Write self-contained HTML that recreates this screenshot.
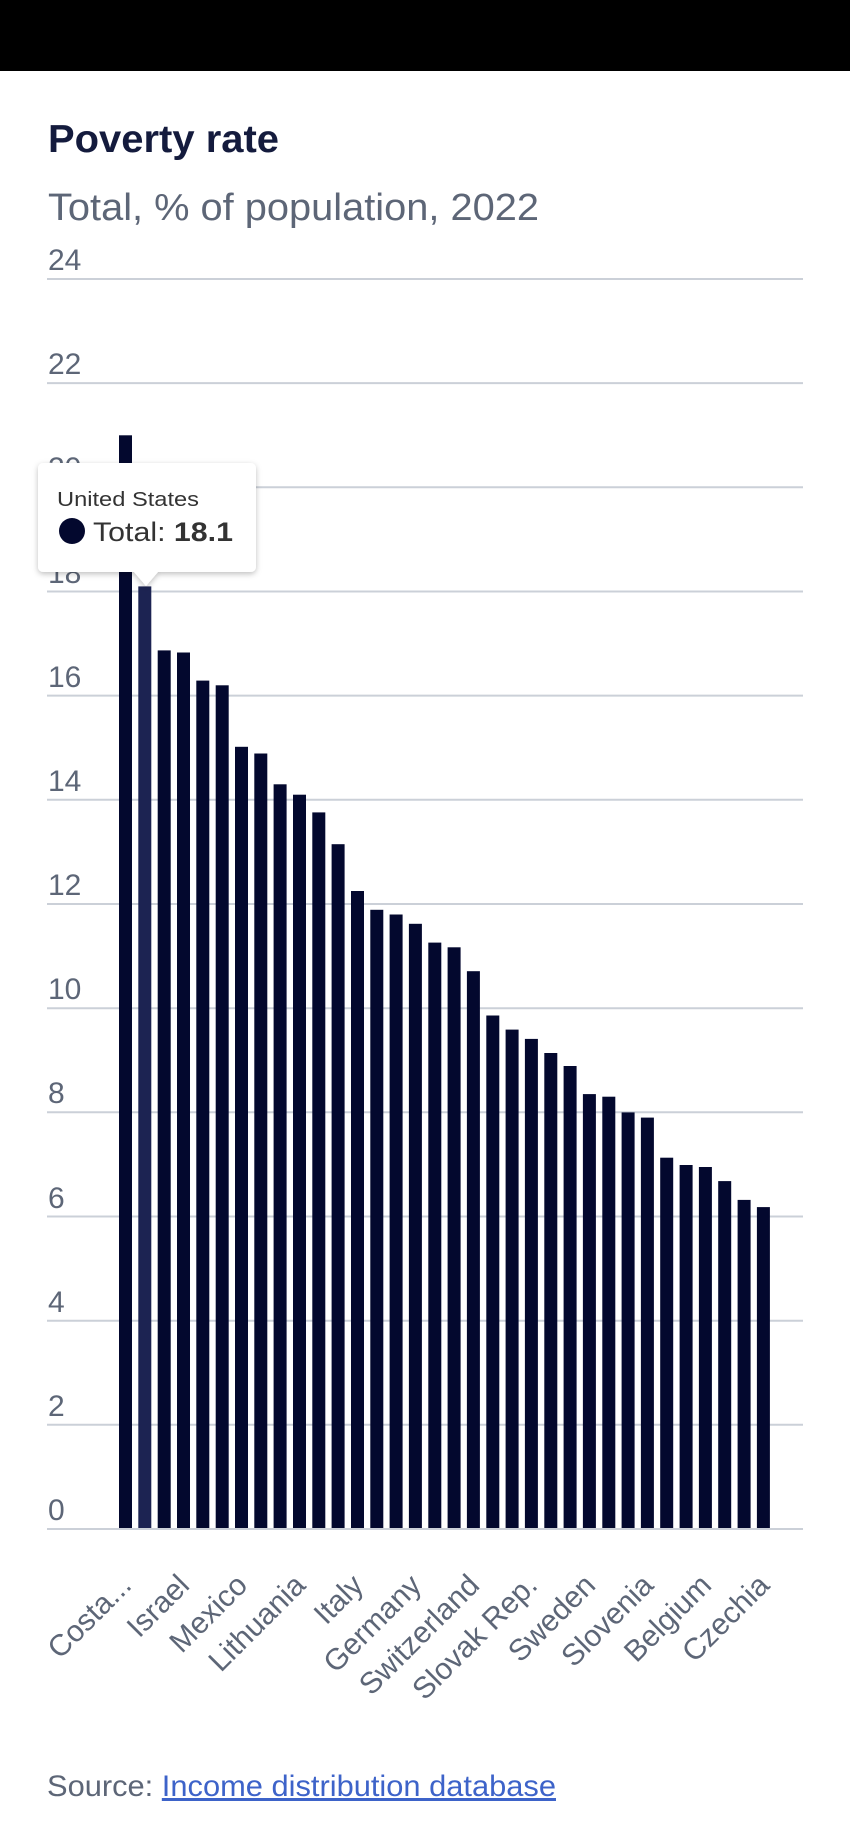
<!DOCTYPE html>
<html><head><meta charset="utf-8"><style>
html,body{margin:0;padding:0;background:#fff;}
svg{display:block}
</style></head><body>
<svg width="850" height="1842" viewBox="0 0 850 1842" xmlns="http://www.w3.org/2000/svg" font-family="Liberation Sans, sans-serif">
<rect x="0" y="0" width="850" height="71" fill="#000"/>
<text x="48" y="152" font-size="39" font-weight="bold" fill="#141b3d" textLength="231" lengthAdjust="spacingAndGlyphs">Poverty rate</text>
<text x="48" y="220" font-size="38" fill="#5d6677" textLength="491" lengthAdjust="spacingAndGlyphs">Total, % of population, 2022</text>
<g stroke="#cbd0d8" stroke-width="2">
<line x1="47" x2="803" y1="1529" y2="1529"/>
<line x1="47" x2="803" y1="1424.8" y2="1424.8"/>
<line x1="47" x2="803" y1="1320.7" y2="1320.7"/>
<line x1="47" x2="803" y1="1216.5" y2="1216.5"/>
<line x1="47" x2="803" y1="1112.3" y2="1112.3"/>
<line x1="47" x2="803" y1="1008.2" y2="1008.2"/>
<line x1="47" x2="803" y1="904" y2="904"/>
<line x1="47" x2="803" y1="799.8" y2="799.8"/>
<line x1="47" x2="803" y1="695.6" y2="695.6"/>
<line x1="47" x2="803" y1="591.5" y2="591.5"/>
<line x1="47" x2="803" y1="487.3" y2="487.3"/>
<line x1="47" x2="803" y1="383.1" y2="383.1"/>
<line x1="47" x2="803" y1="279" y2="279"/>
</g>
<g font-size="30" fill="#5d6677">
<text x="48" y="1520">0</text>
<text x="48" y="1416">2</text>
<text x="48" y="1312">4</text>
<text x="48" y="1208">6</text>
<text x="48" y="1103">8</text>
<text x="48" y="999">10</text>
<text x="48" y="895">12</text>
<text x="48" y="791">14</text>
<text x="48" y="687">16</text>
<text x="48" y="583">18</text>
<text x="48" y="478">20</text>
<text x="48" y="374">22</text>
<text x="48" y="270">24</text>
</g>
<g fill="#03082e">
<rect x="119" y="435.3" width="13" height="1092.7"/>
<rect x="138.3" y="586.4" width="13" height="941.6" fill="#1c2352"/>
<rect x="157.7" y="650.4" width="13" height="877.6"/>
<rect x="177" y="652.5" width="13" height="875.5"/>
<rect x="196.3" y="680.6" width="13" height="847.4"/>
<rect x="215.7" y="685.3" width="13" height="842.7"/>
<rect x="235" y="746.8" width="13" height="781.2"/>
<rect x="254.3" y="753.5" width="13" height="774.5"/>
<rect x="273.6" y="784.3" width="13" height="743.7"/>
<rect x="293" y="794.7" width="13" height="733.3"/>
<rect x="312.3" y="812.4" width="13" height="715.6"/>
<rect x="331.6" y="844.2" width="13" height="683.8"/>
<rect x="351" y="891" width="13" height="637"/>
<rect x="370.3" y="909.8" width="13" height="618.2"/>
<rect x="389.6" y="914.5" width="13" height="613.5"/>
<rect x="408.9" y="923.8" width="13" height="604.2"/>
<rect x="428.3" y="942.6" width="13" height="585.4"/>
<rect x="447.6" y="947.3" width="13" height="580.7"/>
<rect x="466.9" y="971.2" width="13" height="556.8"/>
<rect x="486.3" y="1015.5" width="13" height="512.5"/>
<rect x="505.6" y="1029.6" width="13" height="498.4"/>
<rect x="524.9" y="1038.9" width="13" height="489.1"/>
<rect x="544.3" y="1053" width="13" height="475"/>
<rect x="563.6" y="1066" width="13" height="462"/>
<rect x="582.9" y="1094.1" width="13" height="433.9"/>
<rect x="602.3" y="1096.7" width="13" height="431.3"/>
<rect x="621.6" y="1112.4" width="13" height="415.6"/>
<rect x="640.9" y="1117.6" width="13" height="410.4"/>
<rect x="660.2" y="1157.7" width="13" height="370.3"/>
<rect x="679.6" y="1165" width="13" height="363"/>
<rect x="698.9" y="1167" width="13" height="361"/>
<rect x="718.2" y="1181.1" width="13" height="346.9"/>
<rect x="737.6" y="1199.9" width="13" height="328.1"/>
<rect x="756.9" y="1207.1" width="13" height="320.9"/>
</g>
<g font-size="30" fill="#5d6677" text-anchor="end">
<text x="133" y="1587" transform="rotate(-45 133 1587)">Costa...</text>
<text x="191" y="1587" transform="rotate(-45 191 1587)">Israel</text>
<text x="249" y="1587" transform="rotate(-45 249 1587)">Mexico</text>
<text x="307" y="1587" transform="rotate(-45 307 1587)">Lithuania</text>
<text x="365" y="1587" transform="rotate(-45 365 1587)">Italy</text>
<text x="423" y="1587" transform="rotate(-45 423 1587)">Germany</text>
<text x="481" y="1587" transform="rotate(-45 481 1587)">Switzerland</text>
<text x="539" y="1587" transform="rotate(-45 539 1587)">Slovak Rep.</text>
<text x="597" y="1587" transform="rotate(-45 597 1587)">Sweden</text>
<text x="655" y="1587" transform="rotate(-45 655 1587)">Slovenia</text>
<text x="713" y="1587" transform="rotate(-45 713 1587)">Belgium</text>
<text x="771" y="1587" transform="rotate(-45 771 1587)">Czechia</text>
</g>
<defs><filter id="sh" x="-20%" y="-20%" width="140%" height="150%"><feDropShadow dx="0" dy="2" stdDeviation="3" flood-color="#000" flood-opacity="0.25"/></filter></defs>
<g filter="url(#sh)">
<path d="M44 463 H250 Q256 463 256 469 V566 Q256 572 250 572 H158 L146 586 L134 572 H44 Q38 572 38 566 V469 Q38 463 44 463 Z" fill="#fff"/>
</g>
<text x="57" y="506" font-size="20" fill="#333" textLength="142" lengthAdjust="spacingAndGlyphs">United States</text>
<circle cx="72" cy="531" r="13" fill="#03082e"/>
<text x="93" y="541" font-size="27" fill="#333" textLength="140" lengthAdjust="spacingAndGlyphs">Total: <tspan font-weight="bold">18.1</tspan></text>
<text x="47" y="1796" font-size="30" fill="#5d6677" textLength="509" lengthAdjust="spacingAndGlyphs">Source: <tspan fill="#3d63c9" text-decoration="underline">Income distribution database</tspan></text>
</svg>
</body></html>
